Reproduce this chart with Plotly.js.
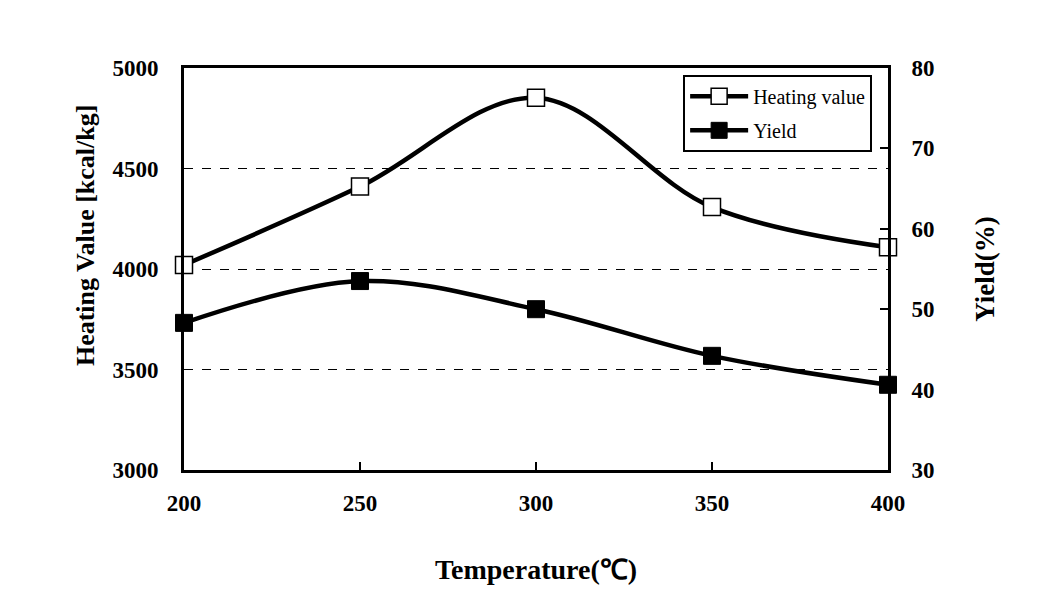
<!DOCTYPE html>
<html>
<head>
<meta charset="utf-8">
<script src="https://cdn.plot.ly/plotly-3.0.1.min.js"></script>
<style>html,body{margin:0;padding:0;background:#fff;}#chart{width:1048px;height:604px;}</style>
</head>
<body>
<div id="chart"></div>
<script>
const temperature = [200, 250, 300, 350, 400];
const heatingValue = [4020, 4410, 4852, 4308, 4108];
const yieldPct = [48.3, 53.5, 50.0, 44.2, 40.6];

const serif = 'Liberation Serif, Times New Roman, serif';

const traces = [
  {
    x: temperature, y: heatingValue, name: 'Heating value', legendgroup: 'a',
    type: 'scatter', mode: 'lines+markers',
    line: {color: '#000', width: 4.5, shape: 'spline', smoothing: 1},
    marker: {symbol: 'square', size: 17, color: '#fff', line: {color: '#000', width: 1.5}},
    yaxis: 'y', cliponaxis: false
  },
  {
    x: temperature, y: yieldPct, name: 'Yield', legendgroup: 'b',
    type: 'scatter', mode: 'lines+markers',
    line: {color: '#000', width: 4.5, shape: 'spline', smoothing: 1},
    marker: {symbol: 'square', size: 17, color: '#000', line: {color: '#000', width: 1}},
    yaxis: 'y2', cliponaxis: false
  }
];

const layout = {
  width: 1048, height: 604,
  margin: {l: 184, r: 160, t: 68, b: 134},
  paper_bgcolor: '#fff', plot_bgcolor: '#fff',
  showlegend: true,
  legend: {
    x: 0.709, y: 0.983, xanchor: 'left', yanchor: 'top',
    bgcolor: '#fff', bordercolor: '#000', borderwidth: 2,
    font: {family: serif, size: 20, color: '#000'},
    tracegroupgap: 5, itemwidth: 58
  },
  annotations: [
    {
      text: 'Heating Value [kcal/kg]', textangle: -90,
      xref: 'paper', yref: 'paper', x: -0.1406, y: 0.582,
      xanchor: 'center', yanchor: 'middle', showarrow: false,
      font: {family: serif, size: 26, color: '#000', weight: 'bold'}
    }
  ],
  xaxis: {
    range: [200, 400], tickvals: [200, 250, 300, 350, 400],
    showline: true, linecolor: '#000', linewidth: 3, mirror: true,
    ticks: 'inside', ticklen: 8, tickwidth: 2, tickcolor: '#000',
    showgrid: false, zeroline: false,
    ticklabelstandoff: 10,
    tickfont: {family: serif, size: 23, color: '#000', weight: 'bold'},
    title: {text: 'Temperature(℃)', font: {family: serif, size: 28, color: '#000', weight: 'bold'}, standoff: 45}
  },
  yaxis: {
    range: [3000, 5000], tickvals: [3000, 3500, 4000, 4500, 5000],
    showline: true, linecolor: '#000', linewidth: 3, mirror: false,
    ticks: '', showgrid: true, gridcolor: '#000', gridwidth: 1, griddash: 'dash',
    zeroline: false, ticklabelstandoff: 18,
    tickfont: {family: serif, size: 23, color: '#000', weight: 'bold'}
  },
  yaxis2: {
    range: [30, 80], tickvals: [30, 40, 50, 60, 70, 80],
    overlaying: 'y', side: 'right',
    showline: true, linecolor: '#000', linewidth: 3,
    ticks: 'inside', ticklen: 8, tickwidth: 2, tickcolor: '#000',
    showgrid: false, zeroline: false, ticklabelstandoff: 16,
    tickfont: {family: serif, size: 23, color: '#000', weight: 'bold'},
    title: {text: 'Yield(%)', font: {family: serif, size: 27, color: '#000', weight: 'bold'}, standoff: 42}
  }
};

Plotly.newPlot('chart', traces, layout, {displayModeBar: false, staticPlot: true});
</script>
</body>
</html>
